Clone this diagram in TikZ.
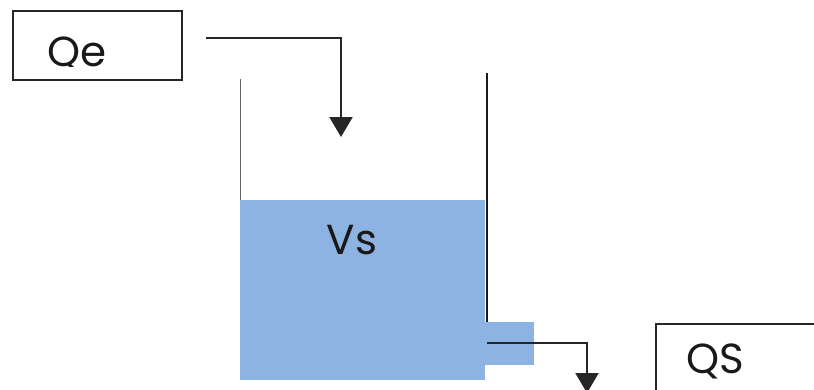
\documentclass[tikz,border=0pt]{standalone}
\usepackage{fontspec}
\setmainfont{Poppins}
\usetikzlibrary{arrows.meta}
\definecolor{water}{HTML}{8DB3E2}
\begin{document}
\begin{tikzpicture}[x=1pt,y=-1pt,
  labelbox/.style={draw=black!85,line width=2pt,inner sep=0pt,anchor=north west},
  flow/.style={draw=black!85,line width=2.2pt,-{Triangle[width=23pt,length=20pt]}},
  lbl/.style={font=\fontsize{42}{44}\selectfont,inner sep=0pt,text=black!90}]
\useasboundingbox (0,0) rectangle (814,389);
\clip (0,0) rectangle (814,389);
% water and outlet
\fill[water] (240,200) rectangle (485,380);
\fill[water] (485,322) rectangle (534,365);
\node[lbl] (vs) at (352,240) {Vs};
% tank walls
\draw[black!60,line width=1pt] (240,79) -- (240,200);
\draw[black!90,line width=2.5pt] (487,73) -- (487,322);
% input box
\node[labelbox,minimum width=169pt,minimum height=69pt] (qebox) at (12,10) {};
\begin{scope}
\clip (12,10) rectangle (181,66);
\node[lbl] (qe) at (77,54) {Qe};
\end{scope}
% output box
\node[labelbox,minimum width=200pt,minimum height=100pt] (qsbox) at (655,323) {};
\node[lbl] (qs) at (715,361) {QS};
% flows
\coordinate (inA) at (206,38);
\coordinate (inB) at (341,137);
\draw[flow] (inA) -| (inB);
\coordinate (outA) at (487,343);
\coordinate (outB) at (587,393);
\draw[flow] (outA) -| (outB);
\end{tikzpicture}
\end{document}
